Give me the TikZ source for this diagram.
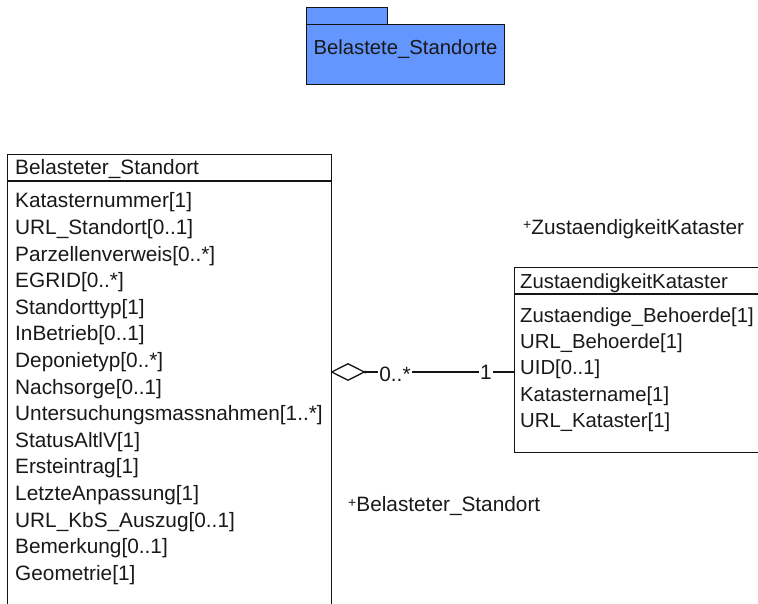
\documentclass[tikz,border=0pt]{standalone}
\usepackage{fontspec}
\setmainfont{Liberation Sans}
\usetikzlibrary{shapes.geometric}
\definecolor{pkgblue}{RGB}{100,150,255}
\definecolor{umlline}{RGB}{20,20,20}
\begin{document}
\begin{tikzpicture}[x=1pt,y=-1pt,
  txt/.style={font=\fontsize{20.8}{24}\selectfont, inner sep=0pt, anchor=west, text=black!90},
  rtxt/.style={txt, font=\fontsize{20.3}{24}\selectfont},
  classbox/.style={draw=umlline, line width=1.3pt, fill=white, anchor=north west, inner sep=0pt},
  pkgpart/.style={draw=umlline, line width=1.3pt, fill=pkgblue, anchor=north west, inner sep=0pt},
  conn/.style={draw=umlline, line width=1.3pt},
  mult/.style={txt, anchor=center, fill=white, inner xsep=1pt}
]
\useasboundingbox (0,0) rectangle (758,603);

% package
\node[pkgpart, minimum width=81pt, minimum height=17pt] (tab) at (306,7) {};
\node[pkgpart, minimum width=198pt, minimum height=60pt] (pkg) at (306,24) {};
\node[txt, anchor=center, font=\fontsize{20.3}{24}\selectfont] (pkglabel) at (405.5,49) {Belastete\_Standorte};

% class Belasteter_Standort
\node[classbox, minimum width=324pt, minimum height=500pt] (bs) at (7,154) {};
\draw[conn] (7,181) -- (331,181);
\node[txt] (bstitle) at (15,169) {Belasteter\_Standort};
\foreach \t [count=\i from 0] in {Katasternummer[1],URL\_Standort[0..1],Parzellenverweis[0..*],EGRID[0..*],Standorttyp[1],InBetrieb[0..1],Deponietyp[0..*],Nachsorge[0..1],Untersuchungsmassnahmen[1..*],StatusAltlV[1],Ersteintrag[1],LetzteAnpassung[1],URL\_KbS\_Auszug[0..1],Bemerkung[0..1],Geometrie[1]}
  \node[txt] (bsa\i) at (15,{202.5+26.6*\i}) {\t};

% class ZustaendigkeitKataster
\node[classbox, minimum width=270pt, minimum height=185pt] (zk) at (514,267) {};
\draw[conn] (514,294) -- (790,294);
\node[rtxt] (zktitle) at (520,283) {ZustaendigkeitKataster};
\foreach \t [count=\i from 0] in {Zustaendige\_Behoerde[1],URL\_Behoerde[1],UID[0..1],Katastername[1],URL\_Kataster[1]}
  \node[rtxt] (zka\i) at (520,{317+26.3*\i}) {\t};

% role labels
\node[txt] (role1) at (523,229) {\raisebox{0.4ex}{\fontsize{14}{14}\selectfont+}ZustaendigkeitKataster};
\node[txt] (role2) at (348,506) {\raisebox{0.4ex}{\fontsize{14}{14}\selectfont+}Belasteter\_Standort};

% aggregation
\node[diamond, draw=umlline, line width=1.3pt, fill=white, minimum width=33pt, minimum height=17pt, inner sep=0pt, aspect=2] (dia) at (348,372) {};
\coordinate (zkin) at (514,372);
\draw[conn] (dia.east) -- (zkin);
\fill[umlline] (dia.east) circle (1.6pt);
\node[mult] (m1) at (395,374) {0..*};
\node[mult] (m2) at (486,372) {1};
\end{tikzpicture}
\end{document}
